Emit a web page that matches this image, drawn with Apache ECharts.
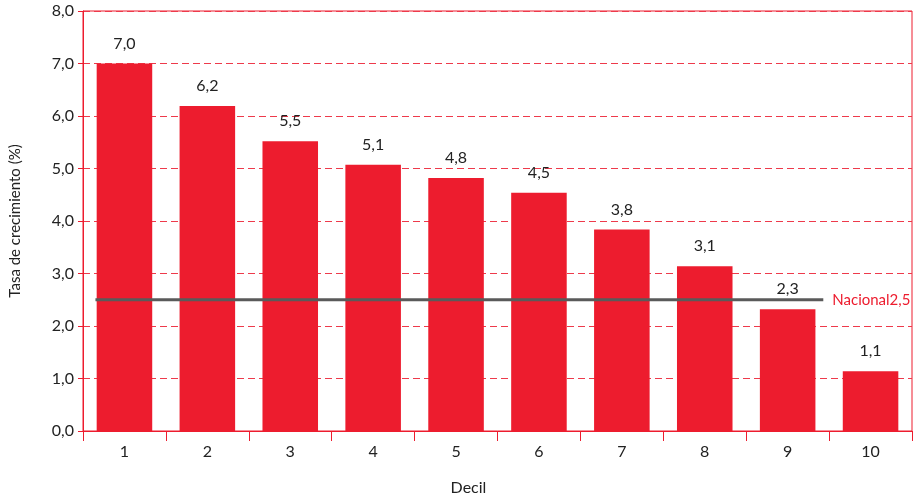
<!DOCTYPE html>
<html lang="es">
<head>
    <meta charset="UTF-8">
    <title>Tasa de crecimiento por decil</title>
    <script src="https://cdn.jsdelivr.net/npm/echarts@6/dist/echarts.min.js"></script>
    <style>
        html, body { margin: 0; padding: 0; background: #fff; }
        #chart { width: 914px; height: 498px; }
    </style>
</head>
<body>
<div id="chart"></div>
<script>
    // data
    var deciles = ['1', '2', '3', '4', '5', '6', '7', '8', '9', '10'];
    var tasas = [7.0, 6.19, 5.52, 5.07, 4.82, 4.54, 3.84, 3.14, 2.32, 1.14];
    var nacional = 2.5;
    var nacionalSpan = [0.15, 8.93];   // in decile units along the hidden value axis

    var RED = '#ed1c2e';
    var FONT = 'Lato, "DejaVu Sans", sans-serif';

    function coma(v) {
        return v.toFixed(1).replace('.', ',');
    }

    var chart = echarts.init(document.getElementById('chart'));

    chart.setOption({
        animation: false,
        grid: {
            left: 83, right: 2, top: 11, bottom: 67,
            containLabel: false,
            outerBoundsMode: 'none',
            show: true, borderColor: RED, borderWidth: 1, backgroundColor: 'transparent'
        },
        xAxis: [
            {
                type: 'category',
                data: deciles,
                name: 'Decil',
                nameLocation: 'middle',
                nameGap: 49,
                nameTextStyle: { fontFamily: FONT, fontSize: 16, color: '#222', padding: [0, 58, 0, 0] },
                axisLine: { lineStyle: { color: RED, width: 1 } },
                axisTick: { show: true, length: 10, lineStyle: { color: RED } },
                axisLabel: { fontFamily: FONT, fontSize: 16, color: '#222', margin: 13 }
            },
            {
                type: 'value',
                min: 0, max: 10,
                show: false
            }
        ],
        yAxis: {
            type: 'value',
            min: 0, max: 8, interval: 1,
            name: 'Tasa de crecimiento (%)',
            nameLocation: 'middle',
            nameGap: 60,
            nameTextStyle: { fontFamily: FONT, fontSize: 15, color: '#222' },
            axisLine: { show: true, lineStyle: { color: RED, width: 1 } },
            axisTick: { show: true, length: 5, lineStyle: { color: RED } },
            axisLabel: { fontFamily: FONT, fontSize: 16, color: '#222', margin: 9, formatter: function (v) { return coma(v); } },
            splitLine: { show: true, lineStyle: { color: '#ee3a4b', type: [7, 4], width: 1, opacity: 1 } }
        },
        series: [
            {
                type: 'bar',
                data: tasas,
                barCategoryGap: '33%',
                itemStyle: { color: RED },
                label: {
                    show: true,
                    position: 'top',
                    distance: 12,
                    fontFamily: FONT,
                    fontSize: 16,
                    color: '#222',
                    formatter: function (p) { return coma(p.value); }
                },
                z: 2
            },
            {
                type: 'line',
                xAxisIndex: 1,
                data: [[nacionalSpan[0], nacional], [nacionalSpan[1], nacional]],
                symbol: 'none',
                lineStyle: { color: '#5a5a5a', width: 3 },
                endLabel: {
                    show: true,
                    distance: 9,
                    fontFamily: FONT,
                    fontSize: 15,
                    color: RED,
                    formatter: function () { return 'Nacional' + coma(nacional); }
                },
                silent: true,
                z: 5
            }
        ]
    });
</script>
</body>
</html>
